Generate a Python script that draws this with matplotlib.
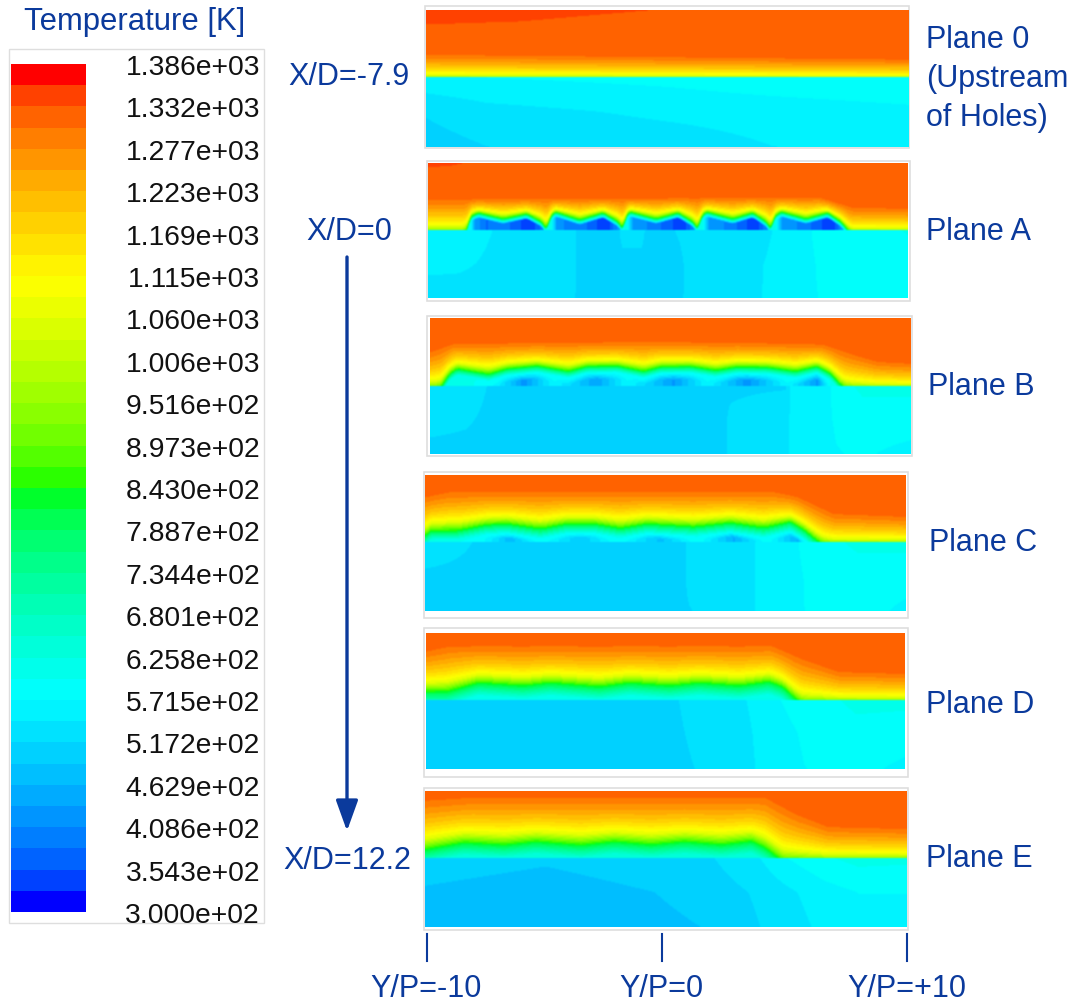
import numpy as np
import matplotlib
matplotlib.use('Agg')
from matplotlib import pyplot as plt
from matplotlib.colors import ListedColormap, BoundaryNorm, hsv_to_rgb
from matplotlib.patches import Rectangle

plt.rcParams['font.family'] = ['Liberation Sans', 'DejaVu Sans']

W, H = 1074, 1004
BLUE = '#0b3a9c'

# Legend values
tempMin, tempMax, nBands = 300.0, 1386.0, 40
tickLabels = ['1.386e+03', '1.332e+03', '1.277e+03', '1.223e+03', '1.169e+03', '1.115e+03', '1.060e+03',
              '1.006e+03', '9.516e+02', '8.973e+02', '8.430e+02', '7.887e+02', '7.344e+02', '6.801e+02',
              '6.258e+02', '5.715e+02', '5.172e+02', '4.629e+02', '4.086e+02', '3.543e+02', '3.000e+02']

# Temperature through the hot layer, 0 = green line of the jet, 1 = top of the layer
hotS = [0, 0.1, 0.22, 0.35, 0.5, 0.75, 1.0, 1.6]
hotT = [830, 930, 1060, 1130, 1190, 1260, 1310, 1318]

# Green line height above the cold/hot interface
gx0 = [-10, 10]
g0 = [-4, -4]
gxA = [-10, -8.54, -8.36, -8.26, -7.92, -6.88, -5.90, -5.28, -5.07, -4.90, -4.72, -3.68, -2.71, -2.08, -1.88, -1.76,
       -1.60, -0.49, 0.42, 1.04, 1.25, 1.39, 1.60, 2.71, 3.54, 4.10, 4.31, 4.44, 4.72, 5.76, 6.67, 7.22, 7.57, 7.71, 10]
gA = [-4, -4, 1, 13, 17, 11, 16, 8, 0.5, 13, 18, 10, 17, 8, 0.5, 13,
      18, 11, 17, 8, 0.5, 13, 18, 11, 17, 8, 0.5, 13, 18, 11, 17, 8, -2, -4, -4]
gxB = [-10, -9.58, -9.42, -9.19, -8.89, -8.19, -7.57, -6.81, -5.56, -4.24, -3.47, -2.22, -1.11,
       -0.42, 0.83, 1.88, 2.78, 4.03, 5.21, 6.11, 6.67, 7.08, 7.29, 7.64, 10]
gB = [-4, -3, 4, 12, 17, 14, 11.5, 17, 20, 14.5, 19.5, 20, 14.5,
      19, 19.5, 15.5, 19, 18.5, 14.5, 19.5, 12, 1, -3, -4, -4]
gxC = [-10, -9.79, -8.68, -7.43, -6.6, -5.21, -4.1, -2.99, -1.88, -0.76, 1.18, 2.71, 4.1, 5.21, 5.76, 6.32, 6.6, 7.01, 10]
gC = [6, 11, 11, 17, 18, 13, 18, 18, 13.5, 18, 15, 19, 14, 20, 12, 1, -3, -4, -4]
gxD = [-10, -9.14, -7.82, -5.94, -4.83, -2.75, -1.5, 0.17, 1.42, 3.08, 4.33, 4.89, 5.44, 5.72, 10]
gD = [8, 8, 17, 14, 17, 13, 17, 14, 17, 14, 18, 13, 1, -4, -4]
gxE = [-10, -9.36, -8.39, -6.72, -5.4, -3.53, -2.14, -0.61, 0.78, 2.31, 3.56, 4.11, 4.6, 4.88, 10]
gE = [8, 11, 15, 12.7, 16, 12.5, 16, 13, 16, 13, 16.5, 10, 1, -4, -4]

# Top of the hot layer
tx0 = [-10, 10]
t0 = [23, 18]
txA = [-10, 6.3, 7.7, 10]
tA = [31, 33, 23, 22]
txB = [-10, -9.03, -0.69, 5.56, 6.39, 7.64, 8.61, 10]
tB = [35, 43, 45, 43, 42, 32, 25, 23]
txC = [-10, -9, 4.52, 5.49, 7.01, 10]
tC = [46, 51, 51, 46, 29, 26]
txD = [-10, -9, 4.47, 5.72, 7.25, 10]
tD = [50, 55, 55, 42, 29, 27]
txE = [-10, -8, 4.11, 5.5, 6.75, 10]
tE = [59, 62, 62, 44, 32, 30]

# Temperature at the core of the jet, near the interface
cx0 = [-10, 10]
c0 = [600, 600]
cxA = [-10, -8.26, -8.06, -7.57, -6.88, -5.76, -5.21, -5.04, -4.86, -4.65, -4.10, -3.68, -2.57, -2.01, -1.85, -1.71,
       -1.46, -0.63, 0.63, 1.18, 1.29, 1.46, 1.74, 2.57, 3.68, 4.24, 4.33, 4.49, 4.79, 5.63, 6.88, 7.29, 7.57, 10]
cA = [600, 600, 430, 380, 400, 330, 400, 600, 600, 430, 390, 400, 330, 430, 600, 600,
      430, 400, 330, 430, 600, 600, 430, 400, 330, 430, 600, 600, 430, 400, 330, 430, 600, 600]
cxB = [-10, -8.89, -7.92, -7.22, -6.11, -4.86, -3.06, -1.81, 0.14, 1.53, 3.19, 4.86, 6.11, 6.67, 10]
cB = [620, 620, 590, 560, 420, 570, 440, 570, 430, 570, 420, 570, 430, 600, 600]
cxC = [-10, -8.82, -7.71, -6.46, -5.21, -3.54, -2.01, -0.21, 1.32, 2.85, 4.24, 5.49, 6.04, 10]
cC = [620, 600, 590, 470, 590, 490, 595, 480, 595, 460, 590, 460, 600, 600]
cxD = [-10, 10]
cD = [610, 610]
cxE = [-10, 10]
cE = [640, 640]

# Cold side below the interface, rows at 0, half and full depth
lx0 = [-10, -7.5, 0, 4.3, 10]
low0 = [[566, 572, 580, 590, 597], [520, 535, 550, 556, 565], [505, 517, 530, 544, 552]]
lxA = [-10, -8.7, -7.3, -4.3, -3.8, -2.1, -1.9, -1.1, -0.9, 0.5, 3.8, 6.2, 8, 10]
lowA = [[560, 565, 544, 532, 516, 513, 525, 525, 513, 518, 535, 575, 590, 600],
        [552, 550, 538, 530, 516, 510, 510, 510, 510, 516, 542, 572, 585, 590],
        [530, 530, 528, 525, 516, 510, 510, 510, 510, 516, 543, 571, 585, 590]]
lxB = [-10, -8.5, -7.3, 2.2, 2.5, 4.8, 5.0, 6.5, 6.9, 8, 10]
lowB = [[540, 530, 512, 512, 512, 514, 550, 560, 585, 605, 605],
        [525, 520, 510, 512, 522, 540, 546, 566, 575, 585, 585],
        [510, 510, 510, 512, 522, 540, 546, 562, 570, 575, 563]]
lxC = [-10, -7.8, 0.7, 1.0, 3.6, 3.9, 5.4, 5.9, 8, 10]
lowC = [[535, 515, 510, 525, 540, 550, 568, 580, 605, 605],
        [512, 510, 510, 525, 540, 550, 566, 574, 585, 585],
        [510, 510, 512, 516, 541, 549, 562, 574, 585, 565]]
lxD = [-10, -9.6, 0.3, 1.2, 3.2, 3.8, 4.7, 5.8, 8, 10]
lowD = [[510, 510, 514, 525, 542, 550, 570, 585, 605, 605],
        [510, 510, 512, 521, 537, 547, 560, 575, 590, 585],
        [490, 508, 510, 517, 535, 545, 556, 571, 580, 565]]
lxE = [-10, -5, 1.4, 2, 3.9, 5, 6.6, 8, 10]
lowE = [[503, 494, 510, 517, 544, 571, 595, 608, 605],
        [487, 478, 495, 503, 522, 538, 560, 572, 572],
        [478, 476, 490, 495, 517, 530, 552, 560, 562]]

# Small hotter patch in the top left of the first two planes
px0 = [-10, -6.1, -0.84, 10]
p0 = [53, 56, 67, 70]
pxA = [-10, -9, -8, 10]
pA = [63, 65, 70, 70]
pxN = [-10, 10]
pN = [200, 200]

# image box in the figure (left, right, top, bottom, interface), frame box, inner width, core depth, then data
planes = [
    ((426, 908, 11, 148, 78), (425, 909, 7, 149), 3.0, 3.0, gx0, g0, tx0, t0, cx0, c0, lx0, low0, px0, p0),
    ((428, 908, 164, 299, 231), (427, 910, 162, 302), 3.0, 2.0, gxA, gA, txA, tA, cxA, cA, lxA, lowA, pxA, pA),
    ((430, 911, 319, 455, 387), (427, 912, 317, 457), 6.0, 7.0, gxB, gB, txB, tB, cxB, cB, lxB, lowB, pxN, pN),
    ((425, 906, 476, 612, 543), (424, 908, 473, 619), 9.0, 5.0, gxC, gC, txC, tC, cxC, cC, lxC, lowC, pxN, pN),
    ((426, 905, 634, 770, 701), (424, 908, 629, 778), 13.0, 4.0, gxD, gD, txD, tD, cxD, cD, lxD, lowD, pxN, pN),
    ((425, 907, 792, 928, 859), (424, 908, 789, 931), 12.0, 4.0, gxE, gE, txE, tE, cxE, cE, lxE, lowE, pxN, pN),
]

planeLabels = [('Plane 0', 926, 37), ('(Upstream', 926, 76), ('of Holes)', 926, 115), ('Plane A', 926, 229),
               ('Plane B', 928, 384), ('Plane C', 929, 540), ('Plane D', 926, 702), ('Plane E', 926, 856),
               ('X/D=-7.9', 288, 74), ('X/D=0', 306, 229), ('X/D=12.2', 283, 858)]
yTicks = [(427, 'Y/P=-10', 426), (662, 'Y/P=0', 661), (907, 'Y/P=+10', 907)]

# 40 flat bands from blue to red, the ramps are bent the way the legend shows
levels = np.linspace(tempMin, tempMax, nBands + 1)
hues = np.linspace(240, 0, nBands) / 360.0
cmap = ListedColormap(hsv_to_rgb(np.column_stack([hues, np.ones(nBands), np.ones(nBands)])) ** 0.6)
norm = BoundaryNorm(levels, nBands)


def pixelAxes(fig, left, right, top, bottom):
    return fig.add_axes([left / W, 1 - bottom / H, (right - left) / W, (bottom - top) / H])


def soften(rgb):
    # light 1-2-1 blur, the reference is a resampled screenshot
    kernel = np.array([1, 2, 1]) / 4.0
    out = rgb.copy()
    for axis in (0, 1):
        pad = [(0, 0)] * 3
        pad[axis] = (1, 1)
        padded = np.pad(out, pad, mode='edge')
        out = np.apply_along_axis(lambda v: np.convolve(v, kernel, mode='valid'), axis, padded)
    return out


def planeField(box, inner, coreDepth, gx, g, tx, t, cx, c, lx, low, px, p):
    left, right, top, bottom, face = box
    nx = right - left
    upper = face - top
    lower = bottom - face
    x = np.linspace(-10, 10, nx)
    z = np.linspace(upper, -lower, bottom - top)
    green = np.interp(x, gx, g)
    green = np.convolve(np.pad(green, 2, mode='edge'), np.ones(5) / 5, mode='valid')
    layer = np.interp(x, tx, t)
    core = np.interp(x, cx, c)
    patch = np.interp(x, px, p)
    rows = np.array([np.interp(x, lx, row) for row in low])
    X, Z = np.meshgrid(x, z)
    G = np.tile(green, (len(z), 1))
    L = np.tile(layer, (len(z), 1))
    C = np.tile(core, (len(z), 1))
    P = np.tile(patch, (len(z), 1))

    field = np.interp((Z - G) / (L - G), hotS, hotT)
    edge = C.clip(600, None)
    w = np.clip((G - Z) / inner, 0, 1)
    v = np.clip((G - inner - Z) / coreDepth, 0, 1)
    inside = 830 + (edge - 830) * w + (C - edge) * v
    field = np.where(Z < G, inside, field)
    field = np.where(Z > P, 1345, field)

    depth = np.clip(-Z / lower, 0, 1)
    cold = np.where(depth < 0.5,
                    rows[0] + (rows[1] - rows[0]) * depth * 2,
                    rows[1] + (rows[2] - rows[1]) * (depth - 0.5) * 2)
    return np.where(Z < 0, cold, field), upper, lower


fig = plt.figure(figsize=(W / 100, H / 100), dpi=100)

# Overlay in figure pixels for frames, labels and the arrow
over = fig.add_axes([0, 0, 1, 1], zorder=0)
over.set_xlim(0, W)
over.set_ylim(H, 0)
over.axis('off')

for plane in planes:
    box, frame, inner, coreDepth = plane[0], plane[1], plane[2], plane[3]
    over.add_patch(Rectangle((frame[0], frame[2]), frame[1] - frame[0], frame[3] - frame[2],
                             fill=False, ec='#dedede', lw=1.2))
    field, upper, lower = planeField(box, inner, coreDepth, *plane[4:])
    ax = pixelAxes(fig, box[0], box[1], box[2], box[3])
    ax.imshow(soften(cmap(norm(field))[:, :, :3]), aspect='auto', extent=[-10, 10, -lower, upper],
              interpolation='hanning')
    ax.axis('off')

# Legend
over.add_patch(Rectangle((9, 50), 255, 874, fill=False, ec='#dedede', lw=1.0))
barAx = pixelAxes(fig, 11, 86, 65, 913)
barAx.pcolormesh([0, 1], levels, ((levels[:-1] + levels[1:]) / 2)[:, None], cmap=cmap, norm=norm)
barAx.axis('off')
for i, label in enumerate(tickLabels):
    over.text(260, 68 + i * 42.4, label, ha='right', va='center', fontsize=20.3, color='#111111')
over.text(135, 22, 'Temperature [K]', ha='center', va='center', fontsize=22.3, color=BLUE)

for label, x, y in planeLabels:
    over.text(x, y + 3, label, ha='left', va='center', fontsize=22, color=BLUE)

for x, label, labelX in yTicks:
    over.plot([x, x], [935, 962], color=BLUE, lw=1.5)
    over.text(labelX, 997, label, ha='center', va='baseline', fontsize=22, color=BLUE)

over.annotate('', xy=(347, 832), xytext=(347, 258),
              arrowprops=dict(arrowstyle='-|>,head_width=0.45,head_length=1.25', color=BLUE, lw=2.4,
                              shrinkA=0, shrinkB=0, mutation_scale=15))

fig.savefig('out.png', dpi=100)
